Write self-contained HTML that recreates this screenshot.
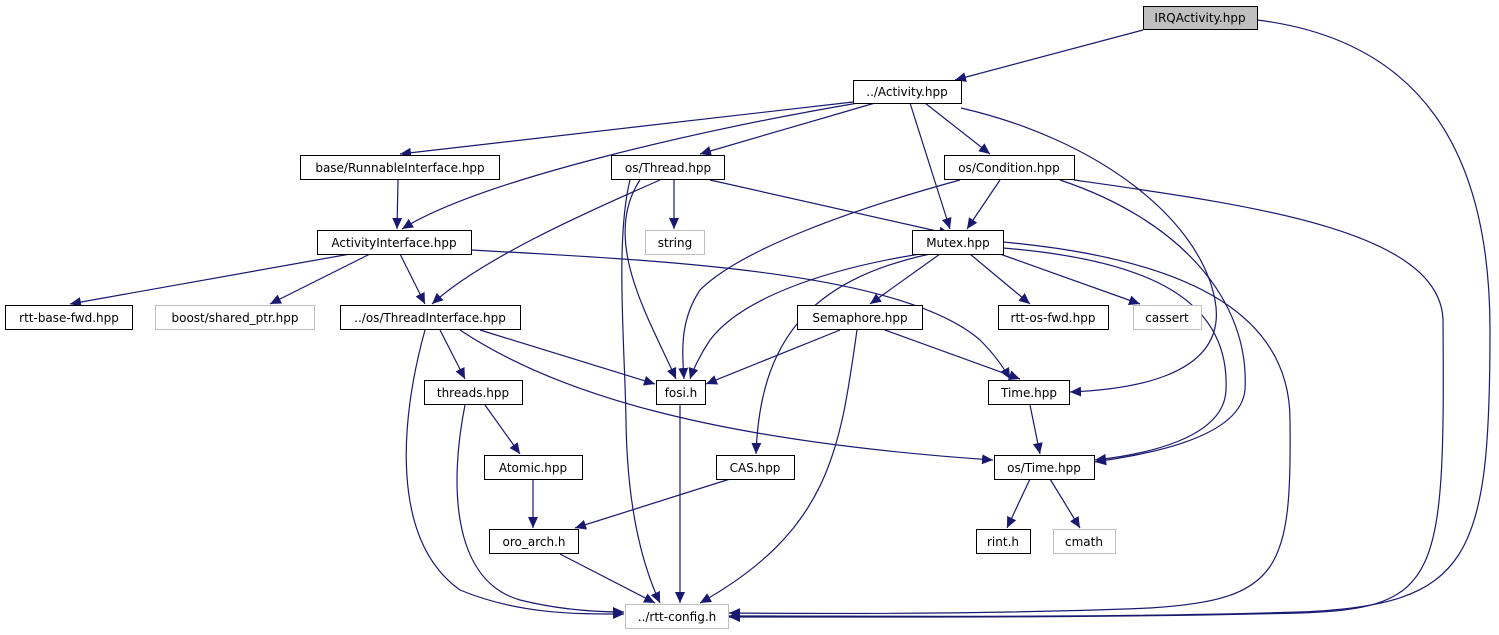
<!DOCTYPE html>
<html><head><meta charset="utf-8"><style>
html,body{margin:0;padding:0;background:#fff;}
svg{display:block;}
text{font-family:"DejaVu Sans","Liberation Sans",sans-serif;font-size:12px;fill:#000;}
.e{fill:none;stroke:#191970;stroke-width:1.2;marker-end:url(#a);}
.n{fill:#fff;stroke:#000;stroke-width:1;}
.g{fill:#fff;stroke:#bfbfbf;stroke-width:1;}
</style></head><body>
<svg width="1499" height="635" viewBox="0 0 1499 635" xmlns="http://www.w3.org/2000/svg">
<defs><marker id="a" markerUnits="userSpaceOnUse" markerWidth="12" markerHeight="10" refX="11" refY="5" orient="auto"><path d="M0,0 L11,5 L0,10 z" fill="#191970"/></marker></defs>
<!-- edges -->
<path class="e" d="M1143,30 L955,80"/>
<path class="e" d="M1257,20 C1420,40 1490,150 1490,330 C1490,560 1470,605 1300,612 C1100,618 900,616 729,616"/>
<path class="e" d="M853,102 L400,154"/>
<path class="e" d="M858,103 C700,130 480,180 402,229"/>
<path class="e" d="M875,103 L700,154"/>
<path class="e" d="M925,103 L990,154"/>
<path class="e" d="M910,103 L950,229"/>
<path class="e" d="M961,108 C1100,140 1200,220 1215,300 C1230,380 1120,390 1070,392"/>
<path class="e" d="M398,180 L397,229"/>
<path class="e" d="M674,180 L674,229"/>
<path class="e" d="M710,180 L950,234"/>
<path class="e" d="M660,180 C580,215 480,260 432,304"/>
<path class="e" d="M640,180 C600,240 650,320 676,379"/>
<path class="e" d="M630,180 C615,240 625,350 626,420 C627,500 640,560 660,603"/>
<path class="e" d="M1000,180 L967,229"/>
<path class="e" d="M960,180 C850,210 740,250 700,290 C680,320 682,350 684,379"/>
<path class="e" d="M1060,180 C1180,220 1250,300 1245,390 C1240,440 1140,455 1095,462"/>
<path class="e" d="M1074,180 C1250,205 1440,230 1443,320 C1445,580 1440,608 1300,613 C1100,618 900,617 729,617"/>
<path class="e" d="M350,254 L70,304"/>
<path class="e" d="M370,254 L270,304"/>
<path class="e" d="M400,254 L425,304"/>
<path class="e" d="M471,250 C650,260 900,270 980,340 C995,355 1005,370 1010,379"/>
<path class="e" d="M920,254 C820,270 740,300 710,340 C700,355 693,370 690,379"/>
<path class="e" d="M930,254 C810,280 760,340 756,454"/>
<path class="e" d="M940,254 L870,304"/>
<path class="e" d="M970,254 L1030,304"/>
<path class="e" d="M1000,254 L1140,304"/>
<path class="e" d="M1003,248 C1150,260 1230,300 1226,390 C1224,440 1140,455 1095,460"/>
<path class="e" d="M1003,242 C1200,260 1290,320 1290,420 C1292,570 1280,600 1150,608 C1000,614 850,614 729,613"/>
<path class="e" d="M440,330 L465,379"/>
<path class="e" d="M480,330 L655,384"/>
<path class="e" d="M460,330 C550,390 700,440 993,460"/>
<path class="e" d="M425,330 C400,420 390,540 460,590 C520,615 580,614 624,614"/>
<path class="e" d="M840,330 L706,384"/>
<path class="e" d="M885,330 L1020,379"/>
<path class="e" d="M857,330 C840,450 830,530 700,603"/>
<path class="e" d="M485,405 L520,454"/>
<path class="e" d="M465,405 C450,480 450,580 520,600 C560,610 600,612 624,612"/>
<path class="e" d="M680,405 L680,603"/>
<path class="e" d="M1030,405 L1040,454"/>
<path class="e" d="M533,479 L533,528"/>
<path class="e" d="M730,479 L575,528"/>
<path class="e" d="M1030,479 L1007,528"/>
<path class="e" d="M1050,479 L1080,528"/>
<path class="e" d="M560,554 L655,603"/>
<!-- nodes -->
<rect x="1143.5" y="6.5" width="114" height="23" fill="#bfbfbf" stroke="#000"/><text x="1200" y="22" text-anchor="middle">IRQActivity.hpp</text>
<rect class="n" x="853.5" y="80.5" width="108" height="23"/><text x="907" y="96" text-anchor="middle">../Activity.hpp</text>
<rect class="n" x="300.5" y="155.5" width="199" height="24"/><text x="400" y="172" text-anchor="middle">base/RunnableInterface.hpp</text>
<rect class="n" x="611.5" y="155.5" width="113" height="24"/><text x="668" y="172" text-anchor="middle">os/Thread.hpp</text>
<rect class="n" x="944.5" y="155.5" width="130" height="24"/><text x="1009" y="172" text-anchor="middle">os/Condition.hpp</text>
<rect class="n" x="317.5" y="230.5" width="154" height="24"/><text x="394" y="247" text-anchor="middle">ActivityInterface.hpp</text>
<rect class="g" x="645.5" y="230.5" width="59" height="24"/><text x="675" y="247" text-anchor="middle">string</text>
<rect class="n" x="912.5" y="230.5" width="91" height="24"/><text x="958" y="247" text-anchor="middle">Mutex.hpp</text>
<rect class="n" x="5.5" y="305.5" width="127" height="24"/><text x="69" y="322" text-anchor="middle">rtt-base-fwd.hpp</text>
<rect class="g" x="155.5" y="305.5" width="159" height="24"/><text x="235" y="322" text-anchor="middle">boost/shared_ptr.hpp</text>
<rect class="n" x="340.5" y="305.5" width="180" height="24"/><text x="430" y="322" text-anchor="middle">../os/ThreadInterface.hpp</text>
<rect class="n" x="797.5" y="305.5" width="125" height="24"/><text x="860" y="322" text-anchor="middle">Semaphore.hpp</text>
<rect class="n" x="998.5" y="305.5" width="110" height="24"/><text x="1053" y="322" text-anchor="middle">rtt-os-fwd.hpp</text>
<rect class="g" x="1133.5" y="305.5" width="68" height="24"/><text x="1167" y="322" text-anchor="middle">cassert</text>
<rect class="n" x="424.5" y="380.5" width="98" height="24"/><text x="473" y="397" text-anchor="middle">threads.hpp</text>
<rect class="n" x="656.5" y="380.5" width="49" height="24"/><text x="681" y="397" text-anchor="middle">fosi.h</text>
<rect class="n" x="988.5" y="380.5" width="81" height="24"/><text x="1029" y="397" text-anchor="middle">Time.hpp</text>
<rect class="n" x="484.5" y="455.5" width="98" height="24"/><text x="533" y="472" text-anchor="middle">Atomic.hpp</text>
<rect class="n" x="716.5" y="455.5" width="78" height="24"/><text x="755" y="472" text-anchor="middle">CAS.hpp</text>
<rect class="n" x="994.5" y="455.5" width="100" height="24"/><text x="1044" y="472" text-anchor="middle">os/Time.hpp</text>
<rect class="n" x="489.5" y="529.5" width="89" height="24"/><text x="534" y="546" text-anchor="middle">oro_arch.h</text>
<rect class="n" x="976.5" y="529.5" width="54" height="24"/><text x="1003" y="546" text-anchor="middle">rint.h</text>
<rect class="g" x="1053.5" y="529.5" width="62" height="24"/><text x="1084" y="546" text-anchor="middle">cmath</text>
<rect class="g" x="625.5" y="604.5" width="103" height="24"/><text x="677" y="621" text-anchor="middle">../rtt-config.h</text>
</svg>
</body></html>
